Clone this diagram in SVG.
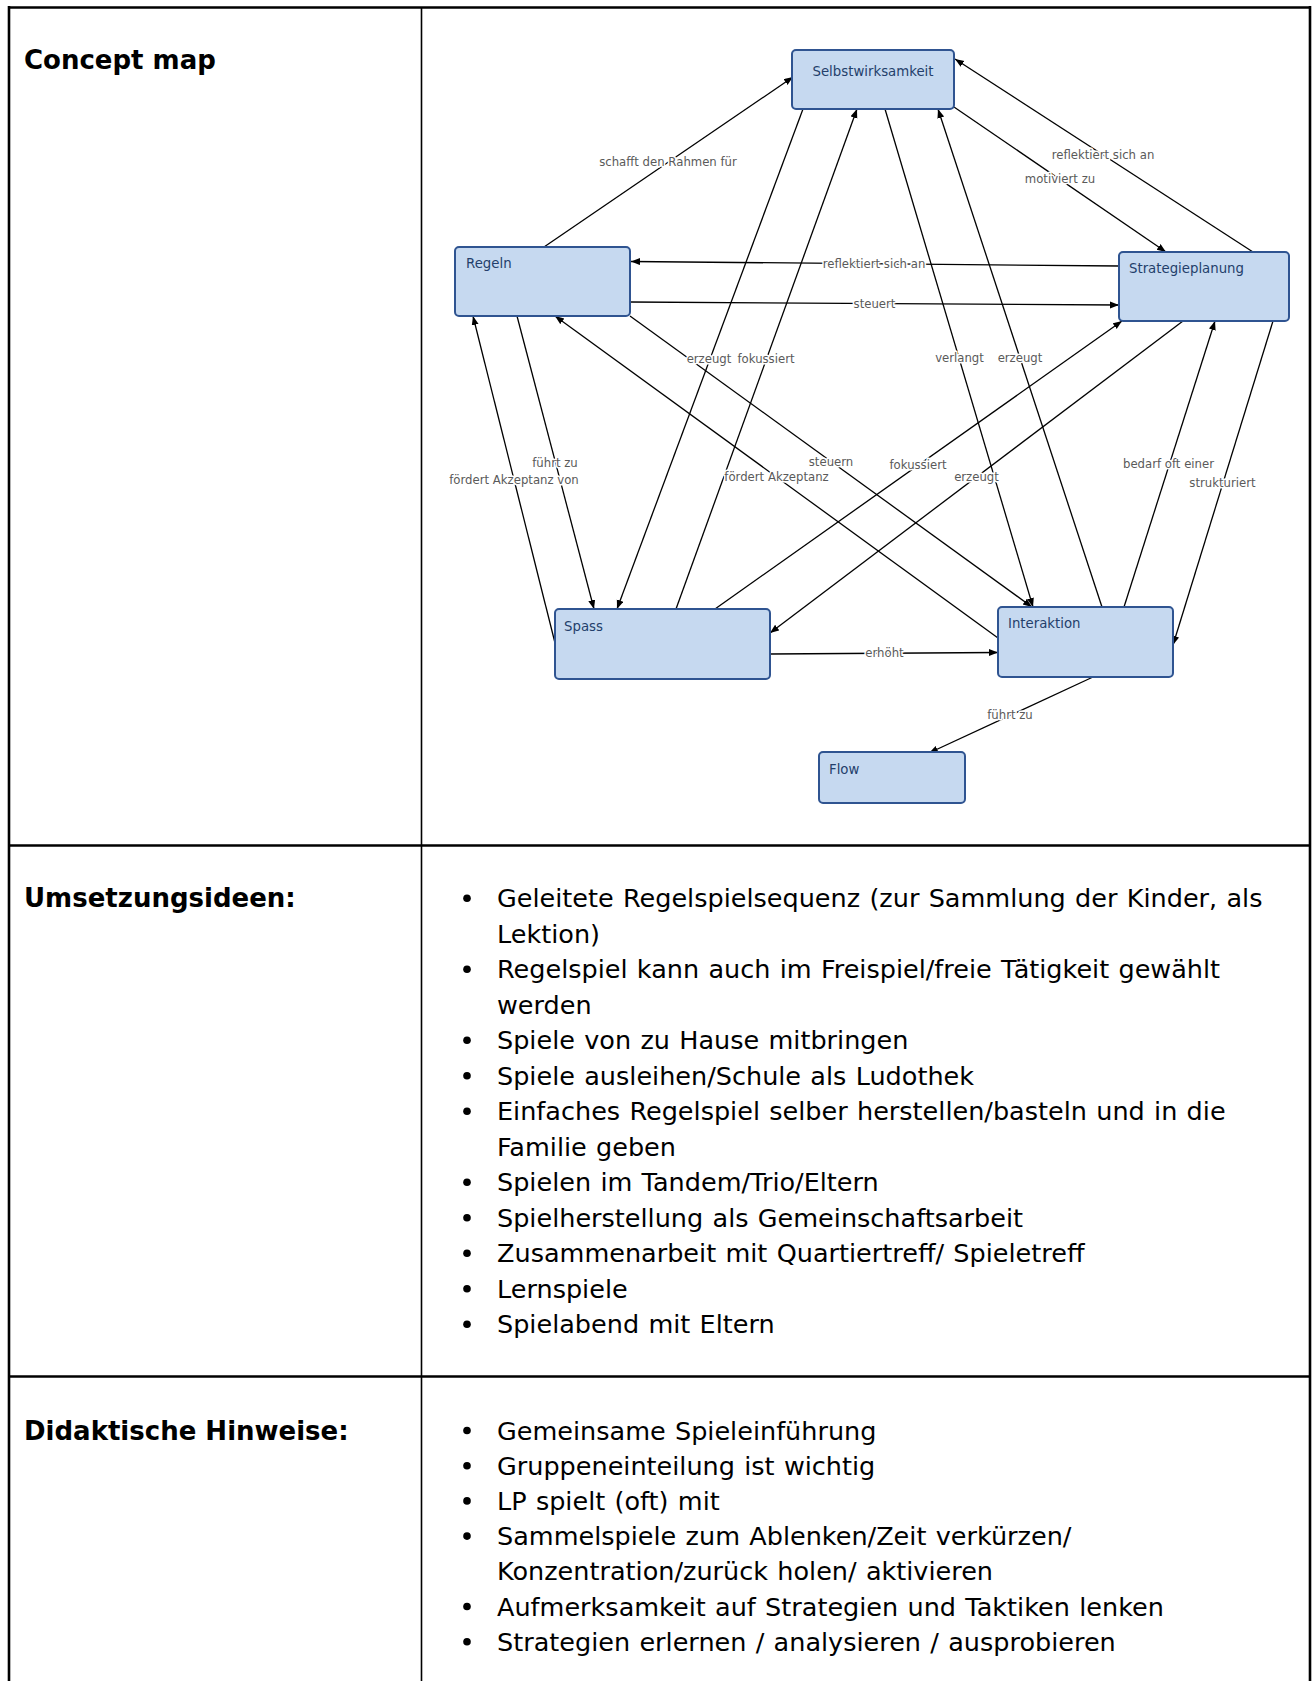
<svg xmlns="http://www.w3.org/2000/svg" width="1313" height="1681" viewBox="0 0 1313 1681">
<style>
.grid{stroke:#000;stroke-width:2.6;fill:none}
.gridv{stroke:#000;stroke-width:1.6;fill:none}
.head{font-family:"DejaVu Sans","Liberation Sans",sans-serif;font-weight:bold;font-size:26px;fill:#000}
.body{font-family:"DejaVu Sans","Liberation Sans",sans-serif;font-size:25.5px;word-spacing:1.2px;fill:#000}
.node rect{fill:#c6d9f0;stroke:#2f5491;stroke-width:2}
.node text{font-family:"DejaVu Sans","Liberation Sans",sans-serif;font-size:13.3px;fill:#243f6b}
.edge{stroke:#000;stroke-width:1.3;fill:none;marker-end:url(#arr)}
.lbl{font-family:"DejaVu Sans","Liberation Sans",sans-serif;font-size:11.7px;fill:#5a5a5a;text-anchor:middle;dominant-baseline:central;stroke:#fff;stroke-width:3;stroke-linejoin:round;paint-order:stroke}
</style>
<defs>
<marker id="arr" markerUnits="userSpaceOnUse" markerWidth="10" markerHeight="8" refX="9" refY="3.5" orient="auto">
<path d="M0,0 L9,3.5 L0,7 z" fill="#000"/>
</marker>
</defs>
<rect x="0" y="0" width="1313" height="1681" fill="#fff"/>
<g id="table">
<line class="grid" x1="9" y1="7.5" x2="1310" y2="7.5"/>
<line class="grid" x1="9" y1="6" x2="9" y2="1681"/>
<line class="grid" x1="1310" y1="6" x2="1310" y2="1681"/>
<line class="gridv" x1="421.5" y1="7" x2="421.5" y2="1681"/>
<line class="grid" x1="9" y1="845.5" x2="1310" y2="845.5"/>
<line class="grid" x1="9" y1="1376.5" x2="1310" y2="1376.5"/>
</g>
<g id="headings">
<text class="head" x="24" y="69">Concept map</text>
<text class="head" x="24" y="907.3">Umsetzungsideen:</text>
<text class="head" x="24" y="1439.5">Didaktische Hinweise:</text>
</g>
<g id="connectors">
<line class="edge" x1="544" y1="247" x2="793" y2="77"/>
<line class="edge" x1="1253" y1="252" x2="955" y2="59"/>
<line class="edge" x1="954" y1="107" x2="1166" y2="252"/>
<line class="edge" x1="1119" y1="266" x2="631" y2="261.5"/>
<line class="edge" x1="630" y1="302" x2="1119" y2="305"/>
<line class="edge" x1="517" y1="316" x2="594" y2="609"/>
<line class="edge" x1="555" y1="643" x2="473" y2="316"/>
<line class="edge" x1="998" y1="638" x2="555" y2="316"/>
<line class="edge" x1="630" y1="316" x2="1032" y2="607"/>
<line class="edge" x1="803" y1="109" x2="617" y2="609"/>
<line class="edge" x1="676" y1="609" x2="857" y2="109"/>
<line class="edge" x1="885" y1="109" x2="1033" y2="607"/>
<line class="edge" x1="1102" y1="607" x2="938" y2="109"/>
<line class="edge" x1="715" y1="609" x2="1122" y2="321"/>
<line class="edge" x1="1183" y1="321" x2="770" y2="633"/>
<line class="edge" x1="1124" y1="607" x2="1215" y2="321"/>
<line class="edge" x1="1273" y1="321" x2="1173" y2="645"/>
<line class="edge" x1="770" y1="654" x2="998" y2="652.5"/>
<line class="edge" x1="1093" y1="677" x2="929" y2="753"/>
<text class="lbl" x="668" y="162">schafft den Rahmen für</text>
<text class="lbl" x="1103" y="155">reflektiert sich an</text>
<text class="lbl" x="1060" y="179">motiviert zu</text>
<text class="lbl" x="874" y="263.5">reflektiert sich an</text>
<text class="lbl" x="874.5" y="303.5">steuert</text>
<text class="lbl" x="555" y="462.5">führt zu</text>
<text class="lbl" x="514" y="479.5">fördert Akzeptanz von</text>
<text class="lbl" x="776.5" y="477">fördert Akzeptanz</text>
<text class="lbl" x="831" y="461.5">steuern</text>
<text class="lbl" x="709" y="359">erzeugt</text>
<text class="lbl" x="766" y="359">fokussiert</text>
<text class="lbl" x="959.5" y="358">verlangt</text>
<text class="lbl" x="1020" y="358">erzeugt</text>
<text class="lbl" x="918" y="465">fokussiert</text>
<text class="lbl" x="976.5" y="477">erzeugt</text>
<text class="lbl" x="1168.5" y="464">bedarf oft einer</text>
<text class="lbl" x="1222.5" y="483">strukturiert</text>
<text class="lbl" x="884.5" y="653">erhöht</text>
<text class="lbl" x="1010" y="715">führt zu</text>
</g>
<g id="node-selbstwirksamkeit" class="node">
<rect x="792" y="50" width="162" height="59" rx="4"/>
<text x="873" y="76" text-anchor="middle">Selbstwirksamkeit</text>
</g>
<g id="node-regeln" class="node">
<rect x="455" y="247" width="175" height="69" rx="4"/>
<text x="466" y="268">Regeln</text>
</g>
<g id="node-strategieplanung" class="node">
<rect x="1119" y="252" width="170" height="69" rx="4"/>
<text x="1129" y="273">Strategieplanung</text>
</g>
<g id="node-spass" class="node">
<rect x="555" y="609" width="215" height="70" rx="4"/>
<text x="564" y="630.5">Spass</text>
</g>
<g id="node-interaktion" class="node">
<rect x="998" y="607" width="175" height="70" rx="4"/>
<text x="1008" y="628">Interaktion</text>
</g>
<g id="node-flow" class="node">
<rect x="819" y="752" width="146" height="51" rx="4"/>
<text x="829" y="774">Flow</text>
</g>
<g id="umsetzung-list">
<g fill="#000">
<circle cx="467" cy="898.3" r="3.8"/>
<circle cx="467" cy="969.3" r="3.8"/>
<circle cx="467" cy="1040.3" r="3.8"/>
<circle cx="467" cy="1075.8" r="3.8"/>
<circle cx="467" cy="1111.3" r="3.8"/>
<circle cx="467" cy="1182.3" r="3.8"/>
<circle cx="467" cy="1217.8" r="3.8"/>
<circle cx="467" cy="1253.3" r="3.8"/>
<circle cx="467" cy="1288.8" r="3.8"/>
<circle cx="467" cy="1324.3" r="3.8"/>
</g>
<text class="body" x="497" y="907.3">Geleitete Regelspielsequenz (zur Sammlung der Kinder, als</text>
<text class="body" x="497" y="942.8">Lektion)</text>
<text class="body" x="497" y="978.3">Regelspiel kann auch im Freispiel/freie Tätigkeit gewählt</text>
<text class="body" x="497" y="1013.8">werden</text>
<text class="body" x="497" y="1049.3">Spiele von zu Hause mitbringen</text>
<text class="body" x="497" y="1084.8">Spiele ausleihen/Schule als Ludothek</text>
<text class="body" x="497" y="1120.3">Einfaches Regelspiel selber herstellen/basteln und in die</text>
<text class="body" x="497" y="1155.8">Familie geben</text>
<text class="body" x="497" y="1191.3">Spielen im Tandem/Trio/Eltern</text>
<text class="body" x="497" y="1226.8">Spielherstellung als Gemeinschaftsarbeit</text>
<text class="body" x="497" y="1262.3">Zusammenarbeit mit Quartiertreff/ Spieletreff</text>
<text class="body" x="497" y="1297.8">Lernspiele</text>
<text class="body" x="497" y="1333.3">Spielabend mit Eltern</text>
</g>
<g id="didaktik-list">
<g fill="#000">
<circle cx="467" cy="1430.5" r="3.8"/>
<circle cx="467" cy="1465.7" r="3.8"/>
<circle cx="467" cy="1500.9" r="3.8"/>
<circle cx="467" cy="1536.1" r="3.8"/>
<circle cx="467" cy="1606.5" r="3.8"/>
<circle cx="467" cy="1641.7" r="3.8"/>
</g>
<text class="body" x="497" y="1439.5">Gemeinsame Spieleinführung</text>
<text class="body" x="497" y="1474.7">Gruppeneinteilung ist wichtig</text>
<text class="body" x="497" y="1509.9">LP spielt (oft) mit</text>
<text class="body" x="497" y="1545.1">Sammelspiele zum Ablenken/Zeit verkürzen/</text>
<text class="body" x="497" y="1580.3">Konzentration/zurück holen/ aktivieren</text>
<text class="body" x="497" y="1615.5">Aufmerksamkeit auf Strategien und Taktiken lenken</text>
<text class="body" x="497" y="1650.7">Strategien erlernen / analysieren / ausprobieren</text>
</g>
</svg>
